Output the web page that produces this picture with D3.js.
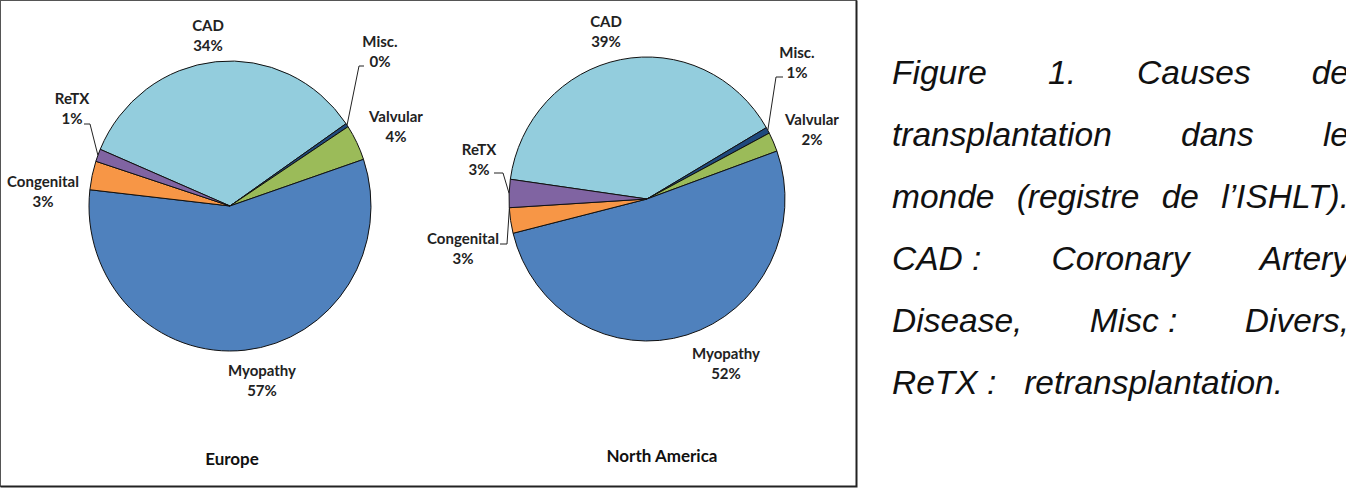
<!DOCTYPE html>
<html><head><meta charset="utf-8">
<script src="https://cdn.jsdelivr.net/npm/d3@7"></script>
<style>
html,body{margin:0;padding:0;background:#fff;overflow:hidden}
svg{display:block}
</style></head><body>
<svg id="chart" width="1346" height="488"></svg>
<script>
// ---- data ----
const categories = ["CAD", "Misc.", "Valvular", "Myopathy", "Congenital", "ReTX"];
const europeValues = [34.0, 0.4, 4.0, 57.0, 3.2, 1.4];
const northAmericaValues = [39.4, 0.7, 2.2, 51.6, 2.9, 3.2];
const panelTitles = ["Europe", "North America"];
const captionLines = [
  "Figure 1. Causes de",
  "transplantation dans le",
  "monde (registre de l\u2019ISHLT).",
  "CAD\u00a0: Coronary Artery",
  "Disease, Misc\u00a0: Divers,",
  "ReTX\u00a0:\u00a0\u00a0\u00a0retransplantation."
];

// ---- styles / layout ----
const colors = d3.scaleOrdinal().domain(categories)
  .range(["#93CDDD", "#1F497D", "#9BBB59", "#4F81BD", "#F79646", "#8064A2"]);
const labelFont = "Lato, 'Open Sans', sans-serif";

const panels = [
  { values: europeValues, title: panelTitles[0], cx: 230, cy: 206, rx: 141, ry: 145, startDeg: -67,
    titlePos: [232, 461],
    labels: { "CAD": [208, 37], "Misc.": [380, 53], "Valvular": [396, 128], "Myopathy": [262, 382],
              "Congenital": [43, 193], "ReTX": [72, 110] },
    leaders: { "Misc.": { end: [364, 66], elbow: [359, 66], t: 0.5 },
               "ReTX": { end: [84, 124], elbow: [90, 124], t: 0.5 } } },
  { values: northAmericaValues, title: panelTitles[1], cx: 647, cy: 199, rx: 138, ry: 142, startDeg: -82,
    titlePos: [662, 458],
    labels: { "CAD": [606, 33], "Misc.": [797, 64], "Valvular": [812, 131], "Myopathy": [726, 365],
              "Congenital": [463, 250], "ReTX": [479, 161] },
    leaders: { "Misc.": { end: [783, 77], elbow: [776, 77], t: 0.5 },
               "ReTX": { end: [494, 173], elbow: [503, 173], t: 0.5 },
               "Congenital": { end: [500, 244], elbow: [507, 244], t: 0.95 } } }
];

const svg = d3.select("#chart");

// frame
svg.append("rect").attr("x", 0.5).attr("y", 0.5).attr("width", 856).attr("height", 486)
  .attr("fill", "#fff").attr("stroke", "#555").attr("stroke-width", 1);
svg.append("path").attr("d", "M856.5,0.5V486.5H0.5").attr("fill", "none")
  .attr("stroke", "#222").attr("stroke-width", 2);

panels.forEach(p => {
  const data = categories.map((c, i) => ({ cat: c, value: p.values[i] }));
  const total = d3.sum(data, d => d.value);
  const start = p.startDeg * Math.PI / 180;
  const pie = d3.pie().sort(null).value(d => d.value).startAngle(start).endAngle(start + 2 * Math.PI);
  const arcs = pie(data);
  const arc = d3.arc().innerRadius(0).outerRadius(p.rx);

  const g = svg.append("g")
    .attr("transform", `translate(${p.cx},${p.cy}) scale(1,${p.ry / p.rx})`);
  g.selectAll("path").data(arcs).join("path")
    .attr("d", arc)
    .attr("fill", d => colors(d.data.cat))
    .attr("stroke", "#111")
    .attr("stroke-width", 1)
    .attr("vector-effect", "non-scaling-stroke");

  // leader lines
  arcs.forEach(a => {
    const L = p.leaders[a.data.cat];
    if (!L) return;
    const ang = a.startAngle + L.t * (a.endAngle - a.startAngle);
    const ex = p.cx + p.rx * Math.sin(ang), ey = p.cy - p.ry * Math.cos(ang);
    svg.append("path")
      .attr("d", d3.line()([L.end, L.elbow, [ex, ey]]))
      .attr("fill", "none").attr("stroke", "#222").attr("stroke-width", 1);
  });

  // labels
  arcs.forEach(a => {
    const pos = p.labels[a.data.cat];
    const pct = Math.round(a.data.value / total * 100) + "%";
    const t = svg.append("text")
      .attr("font-family", labelFont).attr("font-weight", "bold").attr("font-size", 15)
      .attr("fill", "#222").attr("text-anchor", "middle");
    t.append("tspan").attr("x", pos[0]).attr("y", pos[1] - 9.75).attr("dominant-baseline", "middle").text(a.data.cat);
    t.append("tspan").attr("x", pos[0]).attr("y", pos[1] + 9.75).attr("dominant-baseline", "middle").text(pct);
  });

  svg.append("text").attr("x", p.titlePos[0]).attr("y", p.titlePos[1])
    .attr("font-family", labelFont).attr("font-weight", "bold").attr("font-size", 17)
    .attr("fill", "#111").attr("text-anchor", "middle").attr("dominant-baseline", "middle")
    .text(p.title);
});

// caption, justified manually
const capLeft = 892, capRight = 1349, capBase0 = 84, capPitch = 62, capSize = 33.5;
const capG = svg.append("g").attr("font-family", "'Liberation Sans', Arial, sans-serif")
  .attr("font-style", "italic").attr("font-size", capSize).attr("fill", "#111");
captionLines.forEach((line, i) => {
  const y = capBase0 + i * capPitch;
  const words = line.split(" ");
  const last = i === captionLines.length - 1;
  const nodes = words.map(w => capG.append("text").attr("y", y).attr("xml:space", "preserve").text(w));
  const widths = nodes.map(n => n.node().getComputedTextLength());
  const spaceW = capSize * 0.278;
  const gap = (last || words.length < 2) ? spaceW :
    (capRight - capLeft - d3.sum(widths)) / (words.length - 1);
  let x = capLeft;
  nodes.forEach((n, k) => { n.attr("x", x); x += widths[k] + gap; });
});
</script>
</body></html>
